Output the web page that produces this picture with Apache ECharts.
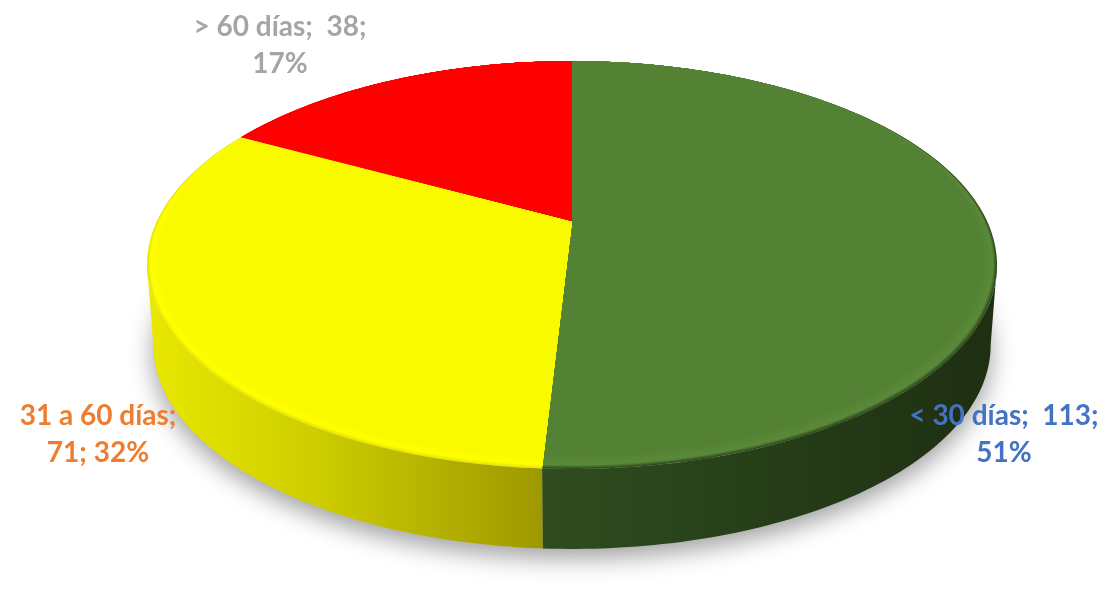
<!DOCTYPE html>
<html>
<head>
<meta charset="utf-8">
<style>html,body{margin:0;padding:0;background:#fff}#c{width:1101px;height:607px}</style>
<script src="https://cdn.jsdelivr.net/npm/echarts@6/dist/echarts.min.js"></script>
</head>
<body>
<div id="c"></div>
<script>
const categories = ['< 30 días', '31 a 60 días', '> 60 días'];
const values = [113, 71, 38];
const percents = ['51%', '32%', '17%'];

const edgeColors = ['#2F4A1C', '#E6E600', '#FF0000'];
const rimColors = ['#5A8A39', '#FFFF00', '#FF0000'];
const faceColors = ['#548235', '#F9F900', '#FF0000'];
const wallStops = [
  [[0, '#2F4C1F'], [0.5, '#263E18'], [1, '#1E2F12']],
  [[0, '#E8E800'], [0.4, '#CFCF00'], [1, '#9E9800']],
  [[0, '#AA0000'], [1, '#AA0000']]
];
const wallRange = [[544, 990], [150, 544], [150, 572]];
const labelLines = [
  [categories[0] + ';  ' + values[0] + ';', percents[0]],
  [categories[1] + ';', values[1] + '; ' + percents[1]],
  [categories[2] + ';  ' + values[2] + ';', percents[2]]
];
const labelAt = [[1004, 416], [98, 416], [280, 27]];
const labelColors = ['#4472C4', '#ED7D31', '#A5A5A5'];
const lineGap = 37;

const total = values.reduce((s, v) => s + v, 0);
const CX = 572, DEPTH = 80, BOTTOM = 0.985;
const PC = -0.2157, PA = 146.8, PB = 221, PD = 415;
const FRONT_A = Math.acos(PC), FRONT_B = 2 * Math.PI - FRONT_A; // rim angles where the wall turns away

function project(t, r, drop, scale) {
  const u = r * Math.sin(t), v = -r * Math.cos(t), den = 1 + PC * v;
  return [CX + scale * PD * u / den, (PA * v + PB) / den + drop];
}
function angles(i) {
  let s = 0;
  for (let k = 0; k < i; k++) s += values[k];
  return [s / total * 2 * Math.PI, (s + values[i]) / total * 2 * Math.PI];
}
function arc(a, b, r, drop, scale) {
  const n = Math.max(8, Math.ceil((b - a) * 60)), pts = [];
  for (let k = 0; k <= n; k++) pts.push(project(a + (b - a) * k / n, r, drop, scale));
  return pts;
}
function hex(c) { return [1, 3, 5].map(o => parseInt(c.substr(o, 2), 16)); }
function mix(c1, c2, f) {
  const a = hex(c1), b = hex(c2);
  return 'rgb(' + a.map((x, k) => Math.round(x + (b[k] - x) * f)).join(',') + ')';
}
function layer(i, r, shift, fill) {
  const [a, b] = angles(i);
  const rim = arc(a, b, r, shift, 1);
  return { type: 'polygon', shape: { points: [project(0, 0, 0, 1)].concat(rim) }, style: { fill: fill } };
}

const seriesData = values.map((v, i) => ({ name: categories[i], value: [i, v] }));
const base = { type: 'custom', coordinateSystem: 'none', silent: true, animation: false, data: seriesData };

const option = {
  backgroundColor: '#ffffff',
  series: [
    Object.assign({}, base, {
      z: 1,
      data: [{ name: 'total', value: [total] }],
      renderItem(p, api) {
        const full = api.value(0) / total * 2 * Math.PI;
        return { type: 'polygon', shape: { points: arc(0, full, 1, DEPTH, BOTTOM) },
          style: { fill: '#BBBBBB', shadowBlur: 24, shadowOffsetY: 9, shadowColor: 'rgba(0,0,0,0.38)' } };
      }
    }),
    Object.assign({}, base, {
      z: 2,
      renderItem(p, api) {
        const i = api.value(0), [a0, b0] = angles(i);
        const a = Math.max(a0, FRONT_A), b = Math.min(b0, FRONT_B);
        if (b <= a) return { type: 'group', children: [] };
        const top = arc(a, b, 1, 0, 1), low = arc(a, b, 1, DEPTH, BOTTOM).reverse();
        return { type: 'polygon', shape: { points: top.concat(low) },
          style: { fill: { type: 'linear', x: wallRange[i][0], y: 0, x2: wallRange[i][1], y2: 0, global: true,
            colorStops: wallStops[i].map(s => ({ offset: s[0], color: s[1] })) } } };
      }
    }),
    Object.assign({}, base, {
      z: 3,
      renderItem(p, api) {
        const i = api.value(0), kids = [layer(i, 1, 0, edgeColors[i])];
        const outerSteps = 4, innerSteps = 8;
        for (let k = 1; k <= outerSteps; k++) {
          const f = k / outerSteps;
          kids.push(layer(i, 1 - 0.008 * f, -1 * f, mix(edgeColors[i], rimColors[i], f)));
        }
        for (let k = 1; k <= innerSteps; k++) {
          const f = k / innerSteps;
          kids.push(layer(i, 0.992 - 0.022 * f, -1 - 3 * f, mix(rimColors[i], faceColors[i], f)));
        }
        return { type: 'group', children: kids };
      }
    }),
    Object.assign({}, base, {
      z: 5,
      renderItem(p, api) {
        const i = api.value(0);
        return { type: 'group', children: labelLines[i].map((t, k) => ({
          type: 'text', x: labelAt[i][0], y: labelAt[i][1] + k * lineGap,
          style: { text: t, fill: labelColors[i], font: 'bold 28px Lato, sans-serif', align: 'center', verticalAlign: 'middle' }
        })) };
      }
    })
  ]
};
echarts.init(document.getElementById('c'), null, { renderer: 'canvas' }).setOption(option);
</script>
</body>
</html>
